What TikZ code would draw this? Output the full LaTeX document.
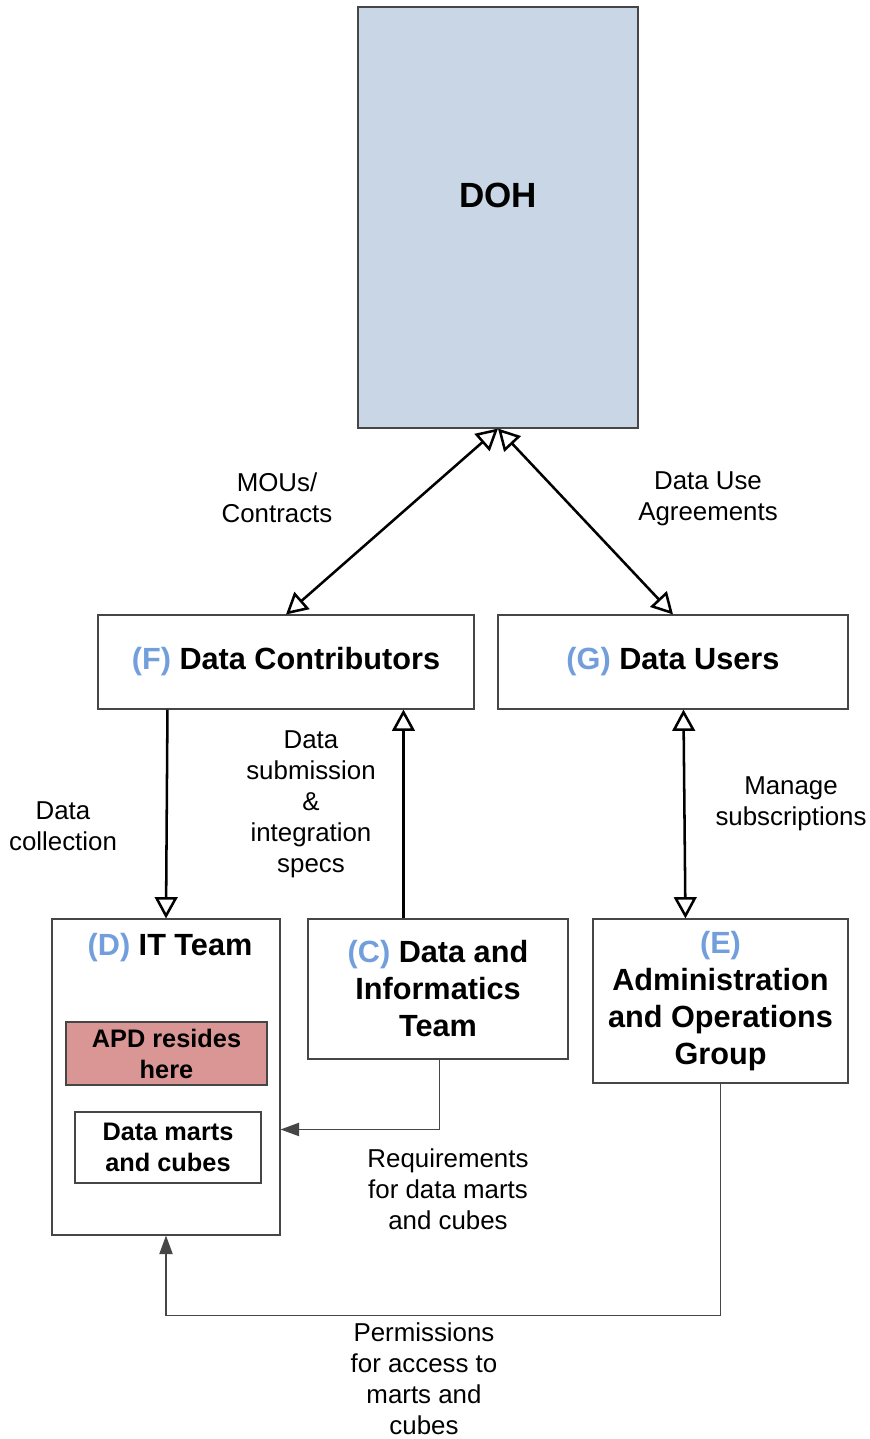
\documentclass[tikz,border=0pt]{standalone}
\usepackage{fontspec}
\setmainfont{Liberation Sans}
\usetikzlibrary{arrows.meta,calc}
\definecolor{dohfill}{RGB}{200,214,230}
\definecolor{apdfill}{RGB}{217,150,148}
\definecolor{lbl}{RGB}{114,159,220}
\definecolor{edge}{RGB}{70,70,70}
\begin{document}
\begin{tikzpicture}[x=0.75pt,y=-0.75pt,
  box/.style={draw=edge,line width=0.8pt,inner sep=0pt,align=center},
  btext/.style={font=\fontsize{23pt}{27.75pt}\selectfont\bfseries,align=center},
  small/.style={font=\fontsize{19pt}{23.25pt}\selectfont\bfseries,align=center},
  lab/.style={font=\fontsize{19.4pt}{23.25pt}\selectfont,align=center},
  big/.style={draw=black,line width=1.9pt,-{Triangle[open,length=16pt,width=17pt]}},
  bigboth/.style={draw=black,line width=1.9pt,{Triangle[open,length=16pt,width=17pt]}-{Triangle[open,length=16pt,width=17pt]}},
  elbow/.style={draw=edge,line width=1pt,-{Triangle[length=14pt,width=10pt]}}
]
\useasboundingbox (0,0) rectangle (869,1439);
\node[box,fill=dohfill,minimum width=210pt,minimum height=315.75pt] (doh) at (498,217.5) {};
\node[btext,font=\fontsize{26.25pt}{30pt}\selectfont\bfseries] (dohl) at (498,195) {DOH};
\node[box,btext,minimum width=282pt,minimum height=70.5pt] (f) at (286,662) {\textcolor{lbl}{(F)} Data Contributors};
\node[box,btext,minimum width=262.5pt,minimum height=70.5pt] (g) at (673,662) {\textcolor{lbl}{(G)} Data Users};
\node[box,minimum width=171pt,minimum height=237pt] (d) at (166,1077) {};
\node[btext] (dl) at (170,948) {\textcolor{lbl}{(D)} IT Team};
\node[box,btext,minimum width=195pt,minimum height=105pt] (c) at (438,989) {\textcolor{lbl}{(C)} Data and\\Informatics\\Team};
\node[box,btext,minimum width=191.25pt,minimum height=123pt] (e) at (720.5,1001) {\textcolor{lbl}{(E)}\\Administration\\and Operations\\Group};
\node[box,small,fill=apdfill,minimum width=150.75pt,minimum height=47.25pt] (apd) at (166.5,1053.5) {APD resides\\here};
\node[box,small,minimum width=139.5pt,minimum height=53.25pt] (dm) at (168,1147.5) {Data marts\\and cubes};
% connectors
\draw[bigboth] (f.north) -- (doh.south);
\draw[bigboth] (g.north) -- (doh.south);
\draw[big] ($(f.south west)+(70,0)$) -- (d.north);
\draw[big] ($(c.north west)+(96,0)$) -- ($(f.south west)+(306,0)$);
\draw[bigboth] ($(g.south west)+(186,0)$) -- ($(e.north west)+(93,0)$);
\draw[elbow] ($(c.south west)+(132,0)$) |- ($(d.north east)+(0,211)$);
\draw[elbow] (e.south) -- ++(0,232) -| (d.south);
% labels
\node[lab] (l1) at (277,498) {MOUs/\\Contracts};
\node[lab] (l2) at (708,499) {Data Use\\Agreements};
\node[lab] (l3) at (63,826) {Data\\collection};
\node[lab] (l4) at (311,804) {Data\\submission\\\&\\integration\\specs};
\node[lab] (l5) at (791,804) {Manage\\subscriptions};
\node[lab] (l6) at (448,1189) {Requirements\\for data marts\\and cubes};
\node[lab,inner sep=1pt] (l7) at (424,1379) {Permissions\\for access to\\marts and\\cubes};
\end{tikzpicture}
\end{document}
